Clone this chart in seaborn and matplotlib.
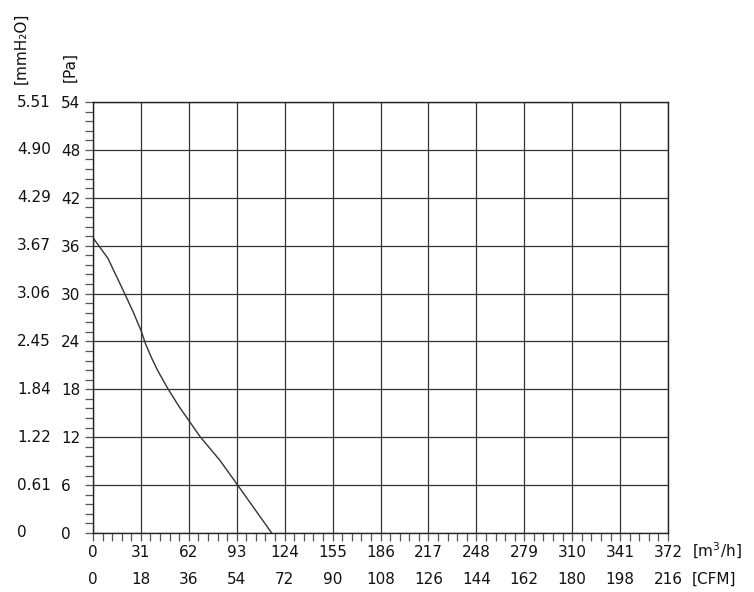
import numpy as np
import pandas as pd
import matplotlib
matplotlib.use("Agg")
import matplotlib.pyplot as plt
import matplotlib.transforms as mtransforms
import seaborn as sns

sns.set_style("white")
plt.rcParams["font.family"] = ["DejaVu Sans"]

# curve (flow in m3/h, static pressure in Pa)
flow = [0, 9.7, 20.5, 26, 31.2, 34, 38, 42, 48.7, 55.5, 62.7, 69.2,
        82.1, 93.6, 104.6, 115.6]
pressure = [37.0, 34.4, 30.0, 27.7, 25.3, 23.7, 21.9, 20.3, 18.0, 15.9,
            13.9, 12.1, 9.1, 6.0, 3.0, 0]

flow_ticks = [0, 31, 62, 93, 124, 155, 186, 217, 248, 279, 310, 341, 372]
cfm_labels = ["0", "18", "36", "54", "72", "90", "108", "126", "144",
              "162", "180", "198", "216"]
pa_ticks = [0, 6, 12, 18, 24, 30, 36, 42, 48, 54]
mmh2o_labels = ["0", "0.61", "1.22", "1.84", "2.45", "3.06", "3.67",
                "4.29", "4.90", "5.51"]

df = pd.DataFrame({"flow": flow, "pressure": pressure})

FS = 11
TXT = "#111111"

fig = plt.figure(figsize=(7.54, 5.92), dpi=100)
ax = fig.add_axes([0.1233, 0.0997, 0.7627, 0.728])

sns.lineplot(data=df, x="flow", y="pressure", ax=ax, color="#333333",
             linewidth=1.0, sort=False)

ax.set_xlim(0, 372)
ax.set_ylim(0, 54)
ax.set_xticks(flow_ticks)
ax.set_yticks(pa_ticks)
ax.set_xticks(np.arange(0, 372.01, 6.2), minor=True)
ax.set_yticks(np.arange(0, 54.01, 1.2), minor=True)
ax.set_xlabel("")
ax.set_ylabel("")

ax.grid(True, which="major", color="#333333", linewidth=0.9)
for s in ax.spines.values():
    s.set_color("#222222")
    s.set_linewidth(1.0)

ax.tick_params(axis="both", which="both", direction="out", length=6,
               width=0.9, color="#555555", labelsize=FS, labelcolor=TXT,
               bottom=True, left=True, top=False, right=False)
ax.tick_params(axis="y", which="major", pad=17)
ax.tick_params(axis="x", which="major", pad=3)
for lbl in ax.get_yticklabels():
    lbl.set_horizontalalignment("left")

# second label columns / rows
ytrans = mtransforms.blended_transform_factory(fig.transFigure, ax.transData)
for val, txt in zip(pa_ticks, mmh2o_labels):
    ax.text(17 / 754, val, txt, transform=ytrans, ha="left", va="center",
            fontsize=FS, color=TXT)

xtrans = mtransforms.blended_transform_factory(ax.transData, fig.transFigure)
for val, txt in zip(flow_ticks, cfm_labels):
    ax.text(val, 1 - 579 / 592, txt, transform=xtrans, ha="center",
            va="center", fontsize=FS, color=TXT)

fig.text(692 / 754, 1 - 551 / 592, "[m$^3$/h]", ha="left", va="center",
         fontsize=FS, color=TXT)
fig.text(692 / 754, 1 - 579 / 592, "[CFM]", ha="left", va="center",
         fontsize=FS, color=TXT)
fig.text(21 / 754, 1 - 48 / 592, "[mmH\u2082O]", rotation=90, ha="center",
         va="center", fontsize=FS, color=TXT)
fig.text(70 / 754, 1 - 67 / 592, "[Pa]", rotation=90, ha="center",
         va="center", fontsize=FS, color=TXT)

fig.savefig("out.png", dpi=100)
